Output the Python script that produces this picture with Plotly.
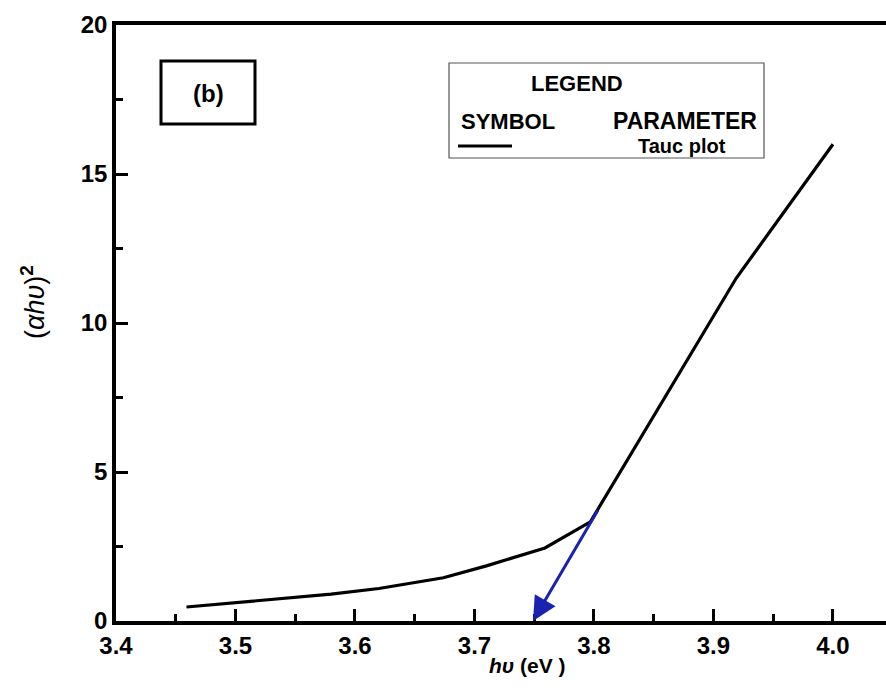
import plotly.graph_objects as go

# ---- data ----
hv = [3.459, 3.50, 3.58, 3.62, 3.674, 3.71, 3.759, 3.797, 3.919, 4.00]
ahv2 = [0.47, 0.62, 0.90, 1.09, 1.45, 1.85, 2.45, 3.33, 11.5, 16.0]
arrow_start = (3.804, 3.77)
arrow_end = (3.749, 0.0)
x_ticks = [3.4, 3.5, 3.6, 3.7, 3.8, 3.9, 4.0]
x_ticklabels = ["3.4", "3.5", "3.6", "3.7", "3.8", "3.9", "4.0"]
y_ticks = [0, 5, 10, 15, 20]
y_ticklabels = ["0", "5", "10", "15", "20"]

W, H = 886, 693
L, R, T, B = 116, 0, 25, 72
PW, PH = W - L - R, H - T - B


def px(p):
    return (p - L) / PW


def py(p):
    return (H - B - p) / PH


FONT = "Arial, Liberation Sans, sans-serif"

fig = go.Figure()
fig.add_trace(go.Scatter(x=hv, y=ahv2, mode="lines",
                         line=dict(color="black", width=3.2),
                         name="Tauc plot", showlegend=False))

fig.update_layout(
    width=W, height=H,
    margin=dict(l=L, r=R, t=T, b=B),
    paper_bgcolor="white", plot_bgcolor="white",
    showlegend=False,
    xaxis=dict(range=[3.4, 4.0444],
               tickvals=x_ticks, ticktext=x_ticklabels,
               ticks="inside", ticklen=12, tickwidth=2.5, tickcolor="black",
               minor=dict(dtick=0.05, tick0=3.4, ticks="inside", ticklen=7,
                          tickwidth=2.5, tickcolor="black", showgrid=False),
               showline=True, linecolor="black", linewidth=3.5, mirror=True,
               showgrid=False, zeroline=False,
               tickfont=dict(family=FONT, size=24, color="black", weight="bold")),
    yaxis=dict(range=[0, 20],
               tickvals=y_ticks, ticktext=y_ticklabels,
               ticks="inside", ticklen=12, tickwidth=2.5, tickcolor="black",
               minor=dict(dtick=2.5, tick0=0, ticks="inside", ticklen=7,
                          tickwidth=2.5, tickcolor="black", showgrid=False),
               showline=True, linecolor="black", linewidth=3.5, mirror=False,
               showgrid=False, zeroline=False,
               tickfont=dict(family=FONT, size=24, color="black", weight="bold")),
)

shapes = []
# (b) box
shapes.append(dict(type="rect", xref="paper", yref="paper",
                   x0=px(161), x1=px(255), y0=py(124), y1=py(61),
                   line=dict(color="black", width=3)))
# legend box
shapes.append(dict(type="rect", xref="paper", yref="paper",
                   x0=px(449), x1=px(764), y0=py(158), y1=py(63),
                   line=dict(color="#555555", width=1.2)))
# legend symbol line
shapes.append(dict(type="line", xref="paper", yref="paper",
                   x0=px(458), x1=px(512), y0=py(146), y1=py(146),
                   line=dict(color="black", width=3.2)))
fig.update_layout(shapes=shapes)

ann = []
ann.append(dict(text="<b>(b)</b>", xref="paper", yref="paper",
                x=px(208), y=py(94), showarrow=False,
                font=dict(family=FONT, size=24, color="black"),
                xanchor="center", yanchor="middle"))
ann.append(dict(text="<b>LEGEND</b>", xref="paper", yref="paper",
                x=px(577), y=py(83), showarrow=False,
                font=dict(family=FONT, size=22, color="black"),
                xanchor="center", yanchor="middle"))
ann.append(dict(text="<b>SYMBOL</b>", xref="paper", yref="paper",
                x=px(508), y=py(121), showarrow=False,
                font=dict(family=FONT, size=22, color="black"),
                xanchor="center", yanchor="middle"))
ann.append(dict(text="<b>PARAMETER</b>", xref="paper", yref="paper",
                x=px(685), y=py(121), showarrow=False,
                font=dict(family=FONT, size=23, color="black"),
                xanchor="center", yanchor="middle"))
ann.append(dict(text="<b>Tauc plot</b>", xref="paper", yref="paper",
                x=px(682), y=py(146), showarrow=False,
                font=dict(family=FONT, size=20, color="black"),
                xanchor="center", yanchor="middle"))
# axis titles
ann.append(dict(text="(<i>αhυ</i>)<sup><b>2</b></sup>", xref="paper", yref="paper",
                x=px(33), y=py(302), showarrow=False, textangle=-90,
                font=dict(family=FONT, size=27, color="black"),
                xanchor="center", yanchor="middle"))
ann.append(dict(text="<b><i>hυ</i></b><b> (eV )</b>", xref="paper", yref="paper",
                x=px(527), y=py(665), showarrow=False,
                font=dict(family=FONT, size=21, color="black"),
                xanchor="center", yanchor="middle"))
# blue arrow
ann.append(dict(x=arrow_end[0], y=arrow_end[1], ax=arrow_start[0], ay=arrow_start[1],
                xref="x", yref="y", axref="x", ayref="y", text="",
                showarrow=True, arrowhead=2, arrowsize=1.6, arrowwidth=3,
                arrowcolor="#1a22b0"))
fig.update_layout(annotations=ann)

fig.write_html("out.html")
